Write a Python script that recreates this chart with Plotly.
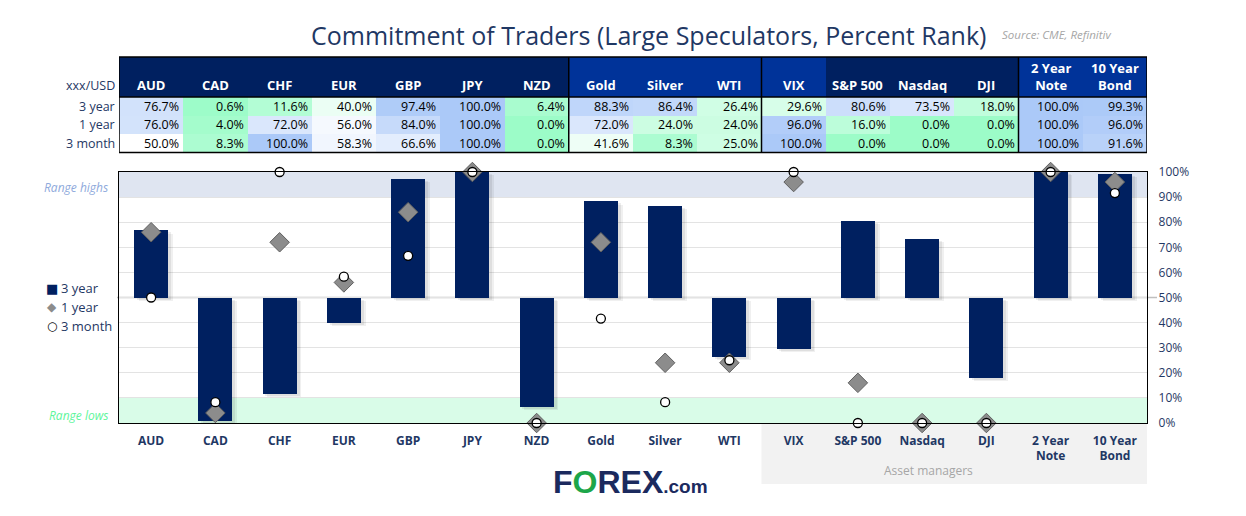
import plotly.graph_objects as go

# ---------------- data ----------------
categories = ["AUD", "CAD", "CHF", "EUR", "GBP", "JPY", "NZD", "Gold", "Silver", "WTI",
              "VIX", "S&P 500", "Nasdaq", "DJI", "2 Year<br>Note", "10 Year<br>Bond"]
year3 = [76.7, 0.6, 11.6, 40.0, 97.4, 100.0, 6.4, 88.3, 86.4, 26.4, 29.6, 80.6, 73.5, 18.0, 100.0, 99.3]
year1 = [76.0, 4.0, 72.0, 56.0, 84.0, 100.0, 0.0, 72.0, 24.0, 24.0, 96.0, 16.0, 0.0, 0.0, 100.0, 96.0]
month3 = [50.0, 8.3, 100.0, 58.3, 66.6, 100.0, 0.0, 41.6, 8.3, 25.0, 100.0, 0.0, 0.0, 0.0, 100.0, 91.6]
row_labels = ["3 year", "1 year", "3 month"]
header_group = [0, 0, 0, 0, 0, 0, 0, 1, 1, 1, 1, 0, 0, 0, 1, 1]
separators_after = [6, 9, 13]
y_ticks = [0, 10, 20, 30, 40, 50, 60, 70, 80, 90, 100]

# ---------------- style ----------------
W, H = 1246, 516
NAVY = "#002060"
BRIGHT = "#003399"
TXT = "#1F3864"
FONT = "Open Sans"
idx = list(range(len(categories)))


def px_x(p):
    return p / W


def px_y(p):
    return (H - p) / H


plot_x = [px_x(119), px_x(1147)]
plot_y = [px_y(423), px_y(172)]
head_y = [px_y(97), px_y(57)]
body_y = [px_y(152.5), px_y(97)]

fig = go.Figure()

# soft bar shadows
for off, dy, alpha in [(0.075, 1.3, 0.06), (0.045, 0.8, 0.07)]:
    fig.add_trace(go.Bar(x=idx, y=[v - 50 for v in year3], base=[50 - dy] * len(idx),
                         width=0.53, offset=-0.265 + off,
                         marker=dict(color=f"rgba(0,0,0,{alpha})", line=dict(width=0)),
                         showlegend=False, hoverinfo="skip"))
# bars
fig.add_trace(go.Bar(x=idx, y=[v - 50 for v in year3], base=50, width=0.53, name="3 year",
                     marker=dict(color=NAVY, line=dict(width=0))))
# 1 year diamonds
fig.add_trace(go.Scatter(x=idx, y=year1, mode="markers", name="1 year", cliponaxis=False,
                         marker=dict(symbol="diamond", size=15, color="#8C8C8C",
                                     line=dict(color="#606060", width=1))))
# 3 month circles
fig.add_trace(go.Scatter(x=idx, y=month3, mode="markers", name="3 month", cliponaxis=False,
                         marker=dict(symbol="circle", size=9, color="white",
                                     line=dict(color="black", width=1.3))))

# table body heatmap
fig.add_trace(go.Heatmap(x=idx, y=[0, 1, 2], z=[year3, year1, month3], xaxis="x2", yaxis="y2",
                         zmin=0, zmax=100, showscale=False, hoverinfo="skip",
                         colorscale=[[0, "#9CFCC8"], [0.5, "#FFFFFF"], [1, "#ABC9F8"]]))
# table header heatmap
fig.add_trace(go.Heatmap(x=idx, y=[0], z=[header_group], xaxis="x3", yaxis="y3",
                         zmin=0, zmax=1, showscale=False, hoverinfo="skip",
                         colorscale=[[0, NAVY], [1, BRIGHT]]))

ann = []
# cell values
for r, row in enumerate([year3, year1, month3]):
    for i, v in enumerate(row):
        ann.append(dict(x=i + 0.5, y=r, xref="x2", yref="y2", text=f"{v:.1f}%",
                        xanchor="right", yanchor="middle", xshift=-2, showarrow=False,
                        font=dict(family=FONT, size=12.5, color="black")))
    ann.append(dict(x=px_x(117), y=r, xref="paper", yref="y2", text=row_labels[r],
                    xanchor="right", yanchor="middle", showarrow=False,
                    font=dict(family=FONT, size=12.5, color=TXT)))
ann.append(dict(x=px_x(117), y=-0.5, xref="paper", yref="y2", text="xxx/USD",
                xanchor="right", yanchor="bottom", yshift=1, showarrow=False,
                font=dict(family=FONT, size=12.5, color=TXT)))
# header texts
for i, c in enumerate(categories):
    ann.append(dict(x=i, y=-0.5, xref="x3", yref="y3", text=f"<b>{c}</b>",
                    xanchor="center", yanchor="bottom", yshift=1, showarrow=False,
                    font=dict(family=FONT, size=13, color="white")))

# legend (drawn as text)
legend_items = [("■", NAVY, 13, "3 year", 288), ("◆", "#8C8C8C", 12, "1 year", 307),
                ("○", "black", 12, "3 month", 326)]
for glyph, col, gs, label, ypx in legend_items:
    ann.append(dict(x=px_x(52), y=px_y(ypx), xref="paper", yref="paper", text=glyph,
                    xanchor="center", yanchor="middle", showarrow=False,
                    font=dict(family="DejaVu Sans", size=gs, color=col)))
    ann.append(dict(x=px_x(59), y=px_y(ypx), xref="paper", yref="paper", text=label,
                    xanchor="left", yanchor="middle", showarrow=False,
                    font=dict(family=FONT, size=13, color=TXT)))

# title etc
ann += [
    dict(x=px_x(648), y=px_y(35), xref="paper", yref="paper", text="Commitment of Traders (Large Speculators, Percent Rank)",
         showarrow=False, xanchor="center", yanchor="middle",
         font=dict(family=FONT, size=25, color=TXT)),
    dict(x=px_x(1000), y=px_y(34), xref="paper", yref="paper", text="<i>Source: CME, Refinitiv</i>",
         showarrow=False, xanchor="left", yanchor="middle",
         font=dict(family=FONT, size=11.5, color="#A6A6A6")),
    dict(x=px_x(110), y=94, xref="paper", yref="y", text="<i>Range highs</i>",
         showarrow=False, xanchor="right", yanchor="middle",
         font=dict(family=FONT, size=12, color="#8FAADC")),
    dict(x=px_x(110), y=3, xref="paper", yref="y", text="<i>Range lows</i>",
         showarrow=False, xanchor="right", yanchor="middle",
         font=dict(family=FONT, size=12, color="#5EF59B")),
    dict(x=12.1, y=px_y(470), xref="x", yref="paper", text="Asset managers",
         showarrow=False, xanchor="center", yanchor="middle",
         font=dict(family=FONT, size=12, color="#A6A6A6")),
    dict(x=px_x(631), y=px_y(482), xref="paper", yref="paper",
         text="<b>F<span style='color:#1DA64A'>O</span>REX<span style='font-size:19px'>.com</span></b>",
         showarrow=False, xanchor="center", yanchor="middle",
         font=dict(family="Liberation Sans", size=32, color="#1B2A5E")),
]

shapes = [
    # range bands
    dict(type="rect", xref="x domain", yref="y", x0=0, x1=1, y0=90, y1=100,
         fillcolor="#DFE5F1", line=dict(width=0), layer="below"),
    dict(type="rect", xref="x domain", yref="y", x0=0, x1=1, y0=0, y1=10,
         fillcolor="#D9FCE8", line=dict(width=0), layer="below"),
    # 50% line
    dict(type="line", xref="paper", yref="y", x0=px_x(117), x1=px_x(1157), y0=50, y1=50,
         line=dict(color="#BFBFBF", width=1.3), layer="between"),
    # asset managers box
    dict(type="rect", xref="x", yref="paper", x0=9.5, x1=15.5, y0=px_y(484), y1=px_y(423.5),
         fillcolor="#F2F2F2", line=dict(width=0), layer="below"),
    # table borders
    dict(type="rect", xref="x2", yref="paper", x0=-0.5, x1=15.5, y0=body_y[0], y1=head_y[1],
         line=dict(color="black", width=1.5), fillcolor="rgba(0,0,0,0)", layer="above"),
    dict(type="line", xref="x2", yref="paper", x0=-0.5, x1=15.5, y0=head_y[0], y1=head_y[0],
         line=dict(color="black", width=1.3), layer="above"),
]
for s in separators_after:
    shapes.append(dict(type="line", xref="x2", yref="paper", x0=s + 0.5, x1=s + 0.5,
                       y0=body_y[0], y1=head_y[1], line=dict(color="black", width=1.5), layer="above"))

fig.update_layout(
    width=W, height=H, autosize=False,
    margin=dict(l=0, r=0, t=0, b=0, pad=0, autoexpand=False),
    paper_bgcolor="white", plot_bgcolor="white",
    font=dict(family=FONT, color=TXT),
    barmode="overlay", bargap=0,
    showlegend=False,
    xaxis=dict(domain=plot_x, range=[-0.5, 15.5], tickvals=idx,
               ticktext=[f"<b>{c}</b>" for c in categories],
               tickfont=dict(family=FONT, size=12, color=TXT), ticks="",
               showgrid=False, zeroline=False, showline=True, linecolor="black",
               linewidth=1.3, mirror=True, ticklabelstandoff=6, anchor="y", automargin=False),
    yaxis=dict(domain=plot_y, range=[0, 100], side="right", tickvals=y_ticks,
               ticktext=[f"{v}%" for v in y_ticks],
               tickfont=dict(family=FONT, size=12, color=TXT),
               showgrid=True, gridcolor="#E3E3E3", gridwidth=1, zeroline=False,
               showline=True, linecolor="black", linewidth=1.3, mirror=True,
               ticks="", ticklabelstandoff=8, anchor="x", automargin=False),
    xaxis2=dict(domain=plot_x, range=[-0.5, 15.5], visible=False, anchor="y2", fixedrange=True, automargin=False),
    yaxis2=dict(domain=body_y, range=[2.5, -0.5], visible=False, anchor="x2", fixedrange=True, automargin=False),
    xaxis3=dict(domain=plot_x, range=[-0.5, 15.5], visible=False, anchor="y3", fixedrange=True, automargin=False),
    yaxis3=dict(domain=head_y, range=[-0.5, 0.5], visible=False, anchor="x3", fixedrange=True, automargin=False),
    annotations=ann,
    shapes=shapes,
)

fig.write_html("out.html", config={"displayModeBar": False},
               post_script="document.body.style.margin='0';")
